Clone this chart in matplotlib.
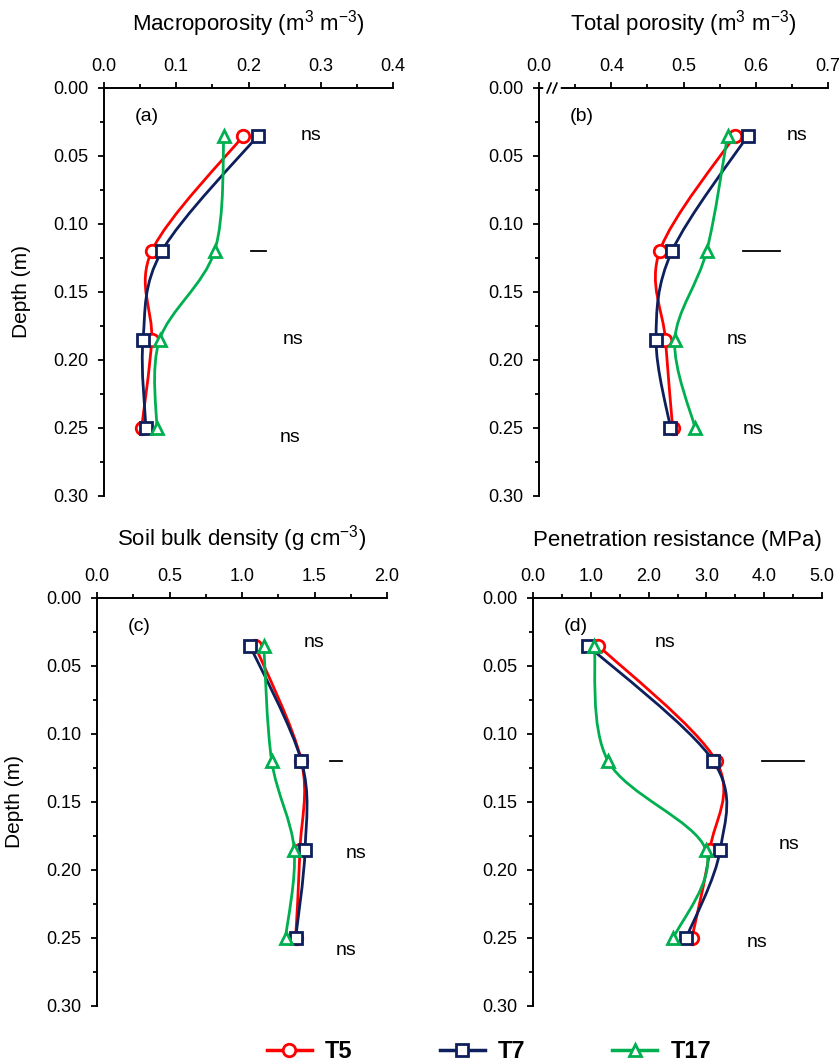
import numpy as np
import matplotlib
matplotlib.use("Agg")
import matplotlib.pyplot as plt
from matplotlib.path import Path
from matplotlib.patches import PathPatch
from matplotlib.lines import Line2D
from matplotlib.ticker import MultipleLocator, FixedLocator, FixedFormatter

plt.rcParams['font.family'] = ['Liberation Sans', 'DejaVu Sans']
plt.rcParams['mathtext.fontset'] = 'custom'
plt.rcParams['mathtext.rm'] = 'Liberation Sans'
plt.rcParams['mathtext.it'] = 'Liberation Sans:italic'
plt.rcParams['mathtext.bf'] = 'Liberation Sans:bold'

# ---------------- data ----------------
depth = [0.035, 0.12, 0.185, 0.25]
treatments = ['T5', 'T7', 'T17']

macro_T5 = [0.193, 0.066, 0.066, 0.052]
macro_T7 = [0.213, 0.080, 0.054, 0.058]
macro_T17 = [0.166, 0.153, 0.077, 0.073]

tp_T5 = [0.571, 0.467, 0.475, 0.485]
tp_T7 = [0.589, 0.484, 0.462, 0.482]
tp_T17 = [0.561, 0.532, 0.488, 0.516]

bd_T5 = [1.09, 1.41, 1.40, 1.37]
bd_T7 = [1.055, 1.41, 1.435, 1.37]
bd_T17 = [1.15, 1.205, 1.36, 1.30]

pr_T5 = [1.13, 3.17, 3.06, 2.75]
pr_T7 = [0.95, 3.12, 3.24, 2.65]
pr_T17 = [1.06, 1.30, 2.99, 2.43]

titles = ['Macroporosity (m$^3$ m$^{-3}$)', 'Total porosity (m$^3$ m$^{-3}$)',
          'Soil bulk density (g cm$^{-3}$)', 'Penetration resistance (MPa)']
panel_tags = ['(a)', '(b)', '(c)', '(d)']

a_ticks = [0.0, 0.1, 0.2, 0.3, 0.4]
a_ticklabels = ['0.0', '0.1', '0.2', '0.3', '0.4']
b_ticks = [0.3, 0.4, 0.5, 0.6, 0.7]
b_ticklabels = ['0.0', '0.4', '0.5', '0.6', '0.7']
c_ticks = [0.0, 0.5, 1.0, 1.5, 2.0]
c_ticklabels = ['0.0', '0.5', '1.0', '1.5', '2.0']
d_ticks = [0.0, 1.0, 2.0, 3.0, 4.0, 5.0]
d_ticklabels = ['0.0', '1.0', '2.0', '3.0', '4.0', '5.0']
y_ticks = [0.00, 0.05, 0.10, 0.15, 0.20, 0.25, 0.30]
y_ticklabels = ['0.00', '0.05', '0.10', '0.15', '0.20', '0.25', '0.30']

# significance annotations: (x, depth, text)
a_notes = [(0.287, 0.035, 'ns'), (0.262, 0.185, 'ns'), (0.257, 0.257, 'ns')]
a_dash = (0.203, 0.224, 0.12)
b_notes = [(0.657, 0.035, 'ns'), (0.574, 0.185, 'ns'), (0.596, 0.251, 'ns')]
b_dash = (0.582, 0.634, 0.12)
c_notes = [(1.50, 0.033, 'ns'), (1.79, 0.188, 'ns'), (1.72, 0.259, 'ns')]
c_dash = (1.61, 1.69, 0.12)
d_notes = [(2.28, 0.033, 'ns'), (4.43, 0.181, 'ns'), (3.87, 0.253, 'ns')]
d_dash = (3.97, 4.68, 0.12)

colors = {'T5': '#FF0000', 'T7': '#0D1F5C', 'T17': '#00B050'}
markers = {'T5': 'o', 'T7': 's', 'T17': '^'}

W, H = 840, 1062
fig = plt.figure(figsize=(W / 100, H / 100), dpi=100)


def rect(l, r, t, b):
    return [l / W, 1 - b / H, (r - l) / W, (b - t) / H]


def smooth_path(xs, ys):
    pts = np.column_stack([xs, ys]).astype(float)
    n = len(pts)
    verts = [pts[0]]
    codes = [Path.MOVETO]
    for i in range(n - 1):
        p0 = pts[max(i - 1, 0)]
        p1 = pts[i]
        p2 = pts[i + 1]
        p3 = pts[min(i + 2, n - 1)]
        c1 = p1 + (p2 - p0) / 6.0
        c2 = p2 - (p3 - p1) / 6.0
        verts += [c1, c2, p2]
        codes += [Path.CURVE4] * 3
    return Path(verts, codes)


panels = [
    dict(rect=rect(104, 393, 88, 496), data=[macro_T5, macro_T7, macro_T17],
         xlim=(0, 0.4), ticks=a_ticks, labels=a_ticklabels, minor=0.05,
         notes=a_notes, dash=a_dash),
    dict(rect=rect(539, 828, 88, 496), data=[tp_T5, tp_T7, tp_T17],
         xlim=(0.3, 0.7), ticks=b_ticks, labels=b_ticklabels, minor=0.05,
         notes=b_notes, dash=b_dash),
    dict(rect=rect(97, 387, 598, 1006), data=[bd_T5, bd_T7, bd_T17],
         xlim=(0, 2.0), ticks=c_ticks, labels=c_ticklabels, minor=0.25,
         notes=c_notes, dash=c_dash),
    dict(rect=rect(533, 822, 598, 1006), data=[pr_T5, pr_T7, pr_T17],
         xlim=(0, 5.0), ticks=d_ticks, labels=d_ticklabels, minor=0.5,
         notes=d_notes, dash=d_dash),
]

for k, p in enumerate(panels):
    ax = fig.add_axes(p['rect'])
    for name, vals in zip(treatments, p['data']):
        col = colors[name]
        patch = PathPatch(smooth_path(vals, depth), fill=False, edgecolor=col,
                          lw=2.0, zorder=3, capstyle='round')
        ax.add_patch(patch)
        ax.plot(vals, depth, linestyle='none', marker=markers[name], ms=9,
                mfc='white', mec=col, mew=2.0, zorder=4)
    ax.set_xlim(*p['xlim'])
    ax.set_ylim(0.30, 0.0)
    for sp in ['right', 'bottom']:
        ax.spines[sp].set_visible(False)
    for sp in ['left', 'top']:
        ax.spines[sp].set_linewidth(1.4)
    ax.xaxis.tick_top()
    ax.xaxis.set_label_position('top')
    ax.xaxis.set_major_locator(FixedLocator(p['ticks']))
    ax.xaxis.set_major_formatter(FixedFormatter(p['labels']))
    ax.xaxis.set_minor_locator(MultipleLocator(p['minor']))
    ax.yaxis.set_major_locator(FixedLocator(y_ticks))
    ax.yaxis.set_major_formatter(FixedFormatter(y_ticklabels))
    ax.yaxis.set_minor_locator(MultipleLocator(0.025))
    ax.tick_params(axis='both', which='major', direction='out', length=4.5,
                   width=1.3, labelsize=13, colors='black', pad=5)
    ax.tick_params(axis='y', which='major', pad=7)
    ax.tick_params(axis='both', which='minor', direction='out', length=3,
                   width=1.3)
    ax.set_xlabel(titles[k], fontsize=16, labelpad=20 if k < 2 else 16)
    if k in (0, 2):
        ax.set_ylabel('Depth (m)', fontsize=15, labelpad=16)
    ax.text(0.105, 0.93, panel_tags[k], transform=ax.transAxes, fontsize=14,
            ha='left', va='center')
    for (x, d, t) in p['notes']:
        ax.text(x, d, t, fontsize=14, ha='center', va='center')
    x0, x1, dd = p['dash']
    ax.plot([x0, x1], [dd, dd], color='black', lw=1.3, zorder=3)
    if k == 1:
        # axis break marks
        ax.plot([0.025, 0.065], [1, 1], color='white', lw=4,
                transform=ax.transAxes, clip_on=False, zorder=5)
        for xb in (0.028, 0.048):
            ax.plot([xb, xb + 0.014], [0.988, 1.012], color='black', lw=1.2,
                    transform=ax.transAxes, clip_on=False, zorder=6)

handles = [Line2D([], [], color=colors[n], lw=2.5, marker=markers[n], ms=9,
                  mfc='white', mec=colors[n], mew=2.0) for n in treatments]
leg = fig.legend(handles, treatments, loc='center', ncol=3,
                 bbox_to_anchor=(489 / W, 10 / H), frameon=False,
                 prop={'weight': 'bold', 'size': 17}, handlelength=1.9,
                 handletextpad=0.55, columnspacing=3.7)

fig.savefig('out.png', dpi=100)
